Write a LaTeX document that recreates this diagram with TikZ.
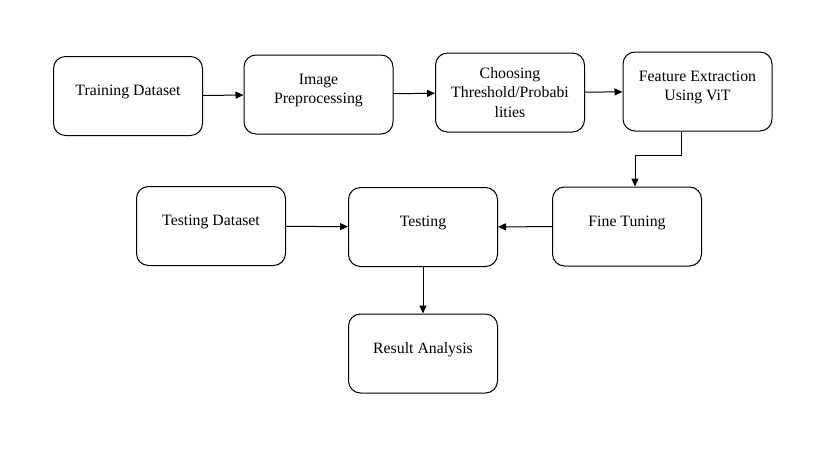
\documentclass[tikz,border=0pt]{standalone}
\usepackage{fontspec}
\setmainfont{Liberation Serif}
\usetikzlibrary{arrows.meta}
\tikzset{
	stagebox/.style={draw, line width=1pt, rounded corners=12pt, minimum width=149pt, minimum height=79pt, align=center, text depth=11pt, font=\fontsize{15.8}{19.5}\selectfont}
}

\begin{document}
\begin{tikzpicture}[x=1pt, y=-1pt, line width=1pt, >={Triangle[length=8pt,width=7pt]}]
			\useasboundingbox (0,0) rectangle (833,458);
			\draw (128,96) node[stagebox] (TrainSet) {Training Dataset};
			\draw (318.5,94.5) node[stagebox] (Prep) {Image\\Preprocessing};
			\draw (510,92.5) node[stagebox, text depth=0pt] (Thresh) {Choosing\\Threshold/Probabi\\lities};
			\draw (697.5,91.5) node[stagebox] (Feat) {Feature Extraction\\Using ViT};
			\draw (211,226) node[stagebox] (TestSet) {Testing Dataset};
			\draw (423,227) node[stagebox] (Test) {Testing};
			\draw (627,226.5) node[stagebox] (Tune) {Fine Tuning};
			\draw (423,353.5) node[stagebox] (Result) {Result Analysis};
	
			\path[->]
			(TrainSet) edge node {} (Prep)
			(Prep) edge node {} (Thresh)
			(Thresh) edge node {} (Feat)
			(Tune) edge node {} (Test)
			(TestSet) edge node {} (Test)
			(Test) edge node {} (Result)
			;
			\draw[->] ([xshift=-16pt]Feat.south) -- ++(0,24) -| ([xshift=8pt]Tune.north);
		\end{tikzpicture}
\end{document}
